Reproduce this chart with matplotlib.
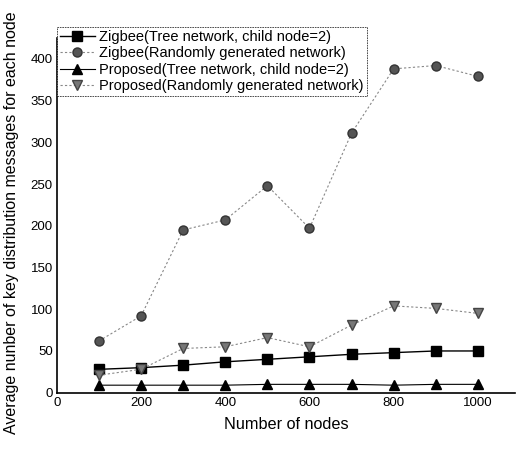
import matplotlib
matplotlib.use("Agg")
import matplotlib.pyplot as plt

plt.rcParams['font.family'] = ['Liberation Sans', 'DejaVu Sans']

nodes = [100, 200, 300, 400, 500, 600, 700, 800, 900, 1000]
zigbee_tree = [28, 30, 33, 37, 40, 43, 46, 48, 50, 50]
zigbee_random = [62, 92, 195, 207, 248, 197, 311, 388, 392, 379]
proposed_tree = [9, 9, 9, 9, 10, 10, 10, 9, 10, 10]
proposed_random = [21, 28, 53, 55, 66, 55, 81, 104, 101, 95]

labels = ["Zigbee(Tree network, child node=2)",
          "Zigbee(Randomly generated network)",
          "Proposed(Tree network, child node=2)",
          "Proposed(Randomly generated network)"]

xticks = [0, 200, 400, 600, 800, 1000]
yticks = [0, 50, 100, 150, 200, 250, 300, 350, 400]

fig = plt.figure(figsize=(5.27, 4.49), dpi=100)
ax = fig.add_axes([0.108, 0.1254, 0.869, 0.790])

ax.plot(nodes, zigbee_tree, color='black', lw=1.0, marker='s', ms=6.5,
        mfc='black', mec='black', label=labels[0])
ax.plot(nodes, zigbee_random, color='#888888', lw=0.8, ls=(0, (2, 2)),
        marker='o', ms=6.5, mfc='#555555', mec='#333333', label=labels[1])
ax.plot(nodes, proposed_tree, color='black', lw=0.8, marker='^', ms=7.5,
        mfc='black', mec='black', label=labels[2])
ax.plot(nodes, proposed_random, color='#888888', lw=0.8, ls=(0, (2, 2)),
        marker='v', ms=7.5, mfc='#777777', mec='#444444', label=labels[3])

ax.set_xlim(0, 1088)
ax.set_ylim(0, 425)
ax.set_xticks(xticks)
ax.set_yticks(yticks)
ax.spines['top'].set_visible(False)
ax.spines['right'].set_visible(False)
ax.spines['left'].set_linewidth(1.2)
ax.spines['bottom'].set_linewidth(1.2)
ax.tick_params(direction='in', length=0, labelsize=9.5, pad=3)

ax.set_xlabel("Number of nodes", fontsize=11.7, labelpad=6)
fig.text(0.022, 0.503, "Average nunber of key distribution messages for each node",
         rotation=90, ha='center', va='center', fontsize=11.5)

leg = ax.legend(loc='upper left', bbox_to_anchor=(0.0, 1.03), fontsize=10.5,
                frameon=True, fancybox=False, borderpad=0.2,
                labelspacing=0.15, handlelength=2.4, handletextpad=0.3,
                borderaxespad=0.0)
leg.get_frame().set_edgecolor('black')
leg.get_frame().set_linewidth(0.6)
leg.get_frame().set_linestyle((0, (2, 1)))

fig.savefig("out.png", dpi=100)
